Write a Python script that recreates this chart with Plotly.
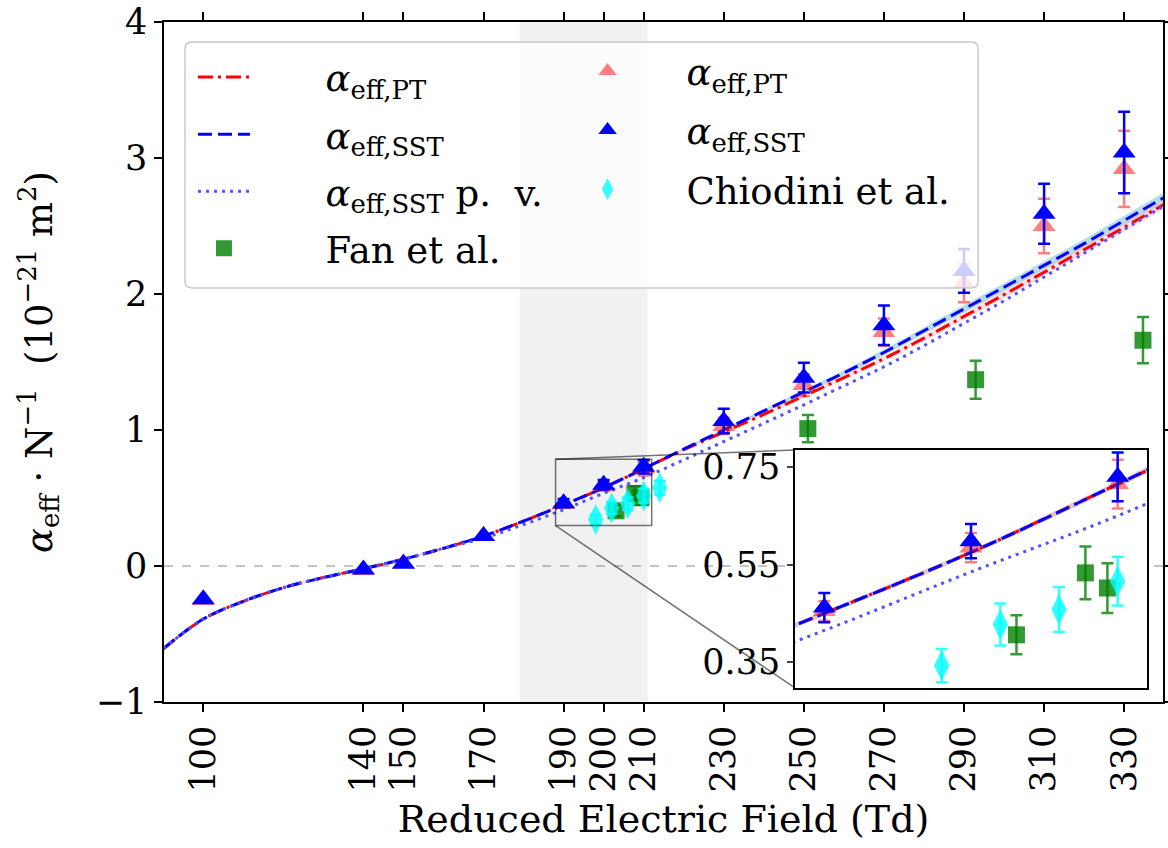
import plotly.graph_objects as go

# ---------------- data ----------------
curve_x = [90, 100, 110, 120, 130, 140, 150, 160, 170, 180, 190, 200, 210,
           220, 230, 240, 250, 260, 270, 280, 290, 300, 310, 320, 330, 340]
alpha_pt = [-0.61, -0.39, -0.26, -0.16, -0.085, -0.02, 0.05, 0.13, 0.22, 0.33, 0.45, 0.575, 0.715,
            0.855, 0.985, 1.115, 1.25, 1.385, 1.525, 1.675, 1.835, 1.995, 2.16, 2.325, 2.49, 2.66]
alpha_sst = [-0.61, -0.39, -0.26, -0.16, -0.085, -0.02, 0.05, 0.13, 0.22, 0.33, 0.45, 0.575, 0.715,
             0.86, 1.0, 1.14, 1.28, 1.42, 1.57, 1.73, 1.89, 2.05, 2.21, 2.37, 2.54, 2.71]
alpha_sst_pv = [-0.61, -0.39, -0.26, -0.16, -0.085, -0.02, 0.05, 0.13, 0.205, 0.305, 0.415, 0.535, 0.65,
                0.78, 0.915, 1.05, 1.185, 1.325, 1.465, 1.62, 1.785, 1.95, 2.125, 2.3, 2.475, 2.65]
band_half = [0.006, 0.005, 0.005, 0.005, 0.005, 0.005, 0.005, 0.005, 0.005, 0.005, 0.005, 0.005, 0.006,
             0.008, 0.01, 0.012, 0.015, 0.018, 0.021, 0.024, 0.027, 0.029, 0.031, 0.033, 0.035, 0.037]

e_field = [100, 140, 150, 170, 190, 200, 210, 230, 250, 270, 290, 310, 330]
pt_vals = [-0.25, -0.03, 0.02, 0.22, 0.455, 0.585, 0.715, 1.03, 1.33, 1.72, 2.08, 2.50, 2.92]
pt_err = [0.0, 0.0, 0.0, 0.0, 0.02, 0.03, 0.05, 0.06, 0.08, 0.10, 0.14, 0.20, 0.28]
sst_vals = [-0.245, -0.025, 0.017, 0.22, 0.462, 0.598, 0.73, 1.066, 1.385, 1.77, 2.17, 2.59, 3.04]
sst_err = [0.0, 0.0, 0.0, 0.0, 0.03, 0.035, 0.05, 0.09, 0.11, 0.145, 0.16, 0.22, 0.30]

fan_x = [203.1, 207.8, 209.3, 251.0, 292.9, 334.7]
fan_vals = [0.406, 0.533, 0.502, 1.01, 1.37, 1.66]
fan_err = [0.04, 0.054, 0.051, 0.10, 0.14, 0.17]

chiodini_x = [198, 202, 206, 210, 214]
chiodini_vals = [0.343, 0.427, 0.458, 0.516, 0.576]
chiodini_err = [0.034, 0.043, 0.046, 0.05, 0.05]

x_ticks = [100, 140, 150, 170, 190, 200, 210, 230, 250, 270, 290, 310, 330]
y_ticks = [-1, 0, 1, 2, 3, 4]
inset_y_ticks = [0.35, 0.55, 0.75]

x_range = [90.2, 339.7]
y_range = [-1, 4]
inset_x_range = [188, 212]
inset_y_range = [0.297, 0.785]
shade_span = [179, 211]

# ---------------- styling ----------------
FONT = "DejaVu Serif"
RED = "#ff0000"
BLUE = "#0000ff"
PV = "#5050ff"
PAD1 = "\u00a0" * 6
PAD2 = "\u00a0" * 5

fig = go.Figure()


def add_all(xa, ya, legend_on):
    # uncertainty bands
    fig.add_trace(go.Scatter(x=curve_x, y=[v + b for v, b in zip(alpha_sst, band_half)],
                             mode="lines", line=dict(width=0, shape="spline"), showlegend=False,
                             hoverinfo="skip", xaxis=xa, yaxis=ya))
    fig.add_trace(go.Scatter(x=curve_x, y=[v - b for v, b in zip(alpha_sst, band_half)],
                             mode="lines", line=dict(width=0, shape="spline"), fill="tonexty",
                             fillcolor="rgba(173,216,230,0.9)", showlegend=False,
                             hoverinfo="skip", xaxis=xa, yaxis=ya))
    fig.add_trace(go.Scatter(x=curve_x, y=[v + b for v, b in zip(alpha_pt, band_half)],
                             mode="lines", line=dict(width=0, shape="spline"), showlegend=False,
                             hoverinfo="skip", xaxis=xa, yaxis=ya))
    fig.add_trace(go.Scatter(x=curve_x, y=[v - b for v, b in zip(alpha_pt, band_half)],
                             mode="lines", line=dict(width=0, shape="spline"), fill="tonexty",
                             fillcolor="rgba(255,182,193,0.4)", showlegend=False,
                             hoverinfo="skip", xaxis=xa, yaxis=ya))
    # model curves
    fig.add_trace(go.Scatter(x=curve_x, y=alpha_pt, mode="lines",
                             name=PAD1 + "<i>α</i><sub>eff,PT</sub>",
                             line=dict(color=RED, width=3, dash="15px,5px,3px,5px", shape="spline"),
                             showlegend=legend_on, legend="legend", legendgroup="l1", legendrank=1,
                             xaxis=xa, yaxis=ya))
    fig.add_trace(go.Scatter(x=curve_x, y=alpha_sst, mode="lines",
                             name=PAD1 + "<i>α</i><sub>eff,SST</sub>",
                             line=dict(color=BLUE, width=3, dash="14px,6px", shape="spline"),
                             showlegend=legend_on, legend="legend", legendgroup="l2", legendrank=2,
                             xaxis=xa, yaxis=ya))
    fig.add_trace(go.Scatter(x=curve_x, y=alpha_sst_pv, mode="lines",
                             name=PAD1 + "<i>α</i><sub>eff,SST</sub> p.  v.",
                             line=dict(color=PV, width=3, dash="3px,5px", shape="spline"),
                             showlegend=legend_on, legend="legend", legendgroup="l3", legendrank=3,
                             xaxis=xa, yaxis=ya))
    # experimental data
    fig.add_trace(go.Scatter(x=fan_x, y=fan_vals, mode="markers", name=PAD1 + "Fan et al.",
                             marker=dict(symbol="square", size=17, color="rgba(0,128,0,0.8)"),
                             error_y=dict(type="data", array=fan_err, thickness=2.5, width=6,
                                          color="rgba(0,128,0,0.8)"),
                             showlegend=legend_on, legend="legend", legendgroup="l4", legendrank=4,
                             xaxis=xa, yaxis=ya))
    fig.add_trace(go.Scatter(x=chiodini_x, y=chiodini_vals, mode="markers",
                             name=PAD2 + "Chiodini et al.",
                             marker=dict(symbol="diamond-tall", size=22, color="rgba(0,255,255,0.8)"),
                             error_y=dict(type="data", array=chiodini_err, thickness=2.5, width=6,
                                          color="rgba(0,255,255,0.8)"),
                             showlegend=legend_on, legend="legend2", legendgroup="m3", legendrank=3,
                             xaxis=xa, yaxis=ya))
    fig.add_trace(go.Scatter(x=e_field, y=pt_vals, mode="markers",
                             name=PAD2 + "<i>α</i><sub>eff,PT</sub>",
                             marker=dict(symbol="triangle-up", size=20, color="rgba(255,0,0,0.5)"),
                             error_y=dict(type="data", array=pt_err, thickness=2.5, width=6,
                                          color="rgba(255,0,0,0.5)"),
                             showlegend=legend_on, legend="legend2", legendgroup="m1", legendrank=1,
                             xaxis=xa, yaxis=ya))
    fig.add_trace(go.Scatter(x=e_field, y=sst_vals, mode="markers",
                             name=PAD2 + "<i>α</i><sub>eff,SST</sub>",
                             marker=dict(symbol="triangle-up", size=20, color=BLUE),
                             error_y=dict(type="data", array=sst_err, thickness=2.5, width=6,
                                          color=BLUE),
                             showlegend=legend_on, legend="legend2", legendgroup="m2", legendrank=2,
                             xaxis=xa, yaxis=ya))


add_all("x", "y", True)
add_all("x2", "y2", False)

axis_common = dict(showline=True, linecolor="black", linewidth=1.5, mirror="ticks",
                   ticks="outside", ticklen=8, tickwidth=1.5, tickcolor="black",
                   showgrid=False, zeroline=False, automargin=False, ticklabeloverflow="allow",
                   tickfont=dict(family=FONT, size=35, color="black"))

fig.update_layout(
    template="none",
    width=1168, height=848,
    margin=dict(l=164, r=5, t=22, b=146),
    paper_bgcolor="white", plot_bgcolor="white",
    font=dict(family=FONT, color="black"),
    xaxis=dict(range=x_range, tickvals=x_ticks, ticktext=[str(v) for v in x_ticks],
               tickangle=-90,
               title=dict(text="Reduced Electric Field (Td)", standoff=14,
                          font=dict(family=FONT, size=38)),
               **axis_common),
    yaxis=dict(range=y_range, tickvals=y_ticks,
               title=dict(text="<i>α</i><sub>eff</sub> · N<sup>−1</sup>  (10<sup>−21</sup> m<sup>2</sup>)",
                          standoff=32, font=dict(family=FONT, size=37)),
               **axis_common),
    xaxis2=dict(domain=[0.6316, 0.984], anchor="y2", range=inset_x_range,
                showline=True, linecolor="black", linewidth=1.5, mirror=True, automargin=False,
                ticks="", showticklabels=False, showgrid=False, zeroline=False),
    yaxis2=dict(domain=[0.0206, 0.3706], anchor="x2", range=inset_y_range,
                tickvals=inset_y_ticks, ticktext=["0.35", "0.55", "0.75"],
                showline=True, linecolor="black", linewidth=1.5, mirror=True, automargin=False,
                ticks="outside", ticklen=6, tickwidth=1.5, showgrid=False, zeroline=False,
                ticklabeloverflow="allow",
                tickfont=dict(family=FONT, size=35, color="black")),
    legend=dict(x=0.029, y=0.964, xanchor="left", yanchor="top",
                bgcolor="rgba(0,0,0,0)", borderwidth=0, traceorder="grouped",
                tracegroupgap=6, itemwidth=52,
                font=dict(family=FONT, size=37, color="black")),
    legend2=dict(x=0.424, y=0.973, xanchor="left", yanchor="top",
                 bgcolor="rgba(0,0,0,0)", borderwidth=0, traceorder="grouped",
                 tracegroupgap=8, itemwidth=30,
                 font=dict(family=FONT, size=37, color="black")),
    showlegend=True,
)

# shaded field window
fig.add_shape(type="rect", xref="x", yref="paper", x0=shade_span[0], x1=shade_span[1],
              y0=0, y1=1, fillcolor="rgba(0,0,0,0.055)", line_width=0, layer="below")
# zero reference line
fig.add_shape(type="line", xref="paper", yref="y", x0=0, x1=1, y0=0, y1=0,
              line=dict(color="#888888", width=1, dash="dash"), layer="below")

# zoom indicator rectangle and connectors
fig.add_shape(type="rect", xref="x", yref="y", x0=inset_x_range[0], x1=inset_x_range[1],
              y0=inset_y_range[0], y1=inset_y_range[1],
              line=dict(color="rgba(0,0,0,0.55)", width=1.5), layer="above")


def to_paper_x(v):
    return (v - x_range[0]) / (x_range[1] - x_range[0])


def to_paper_y(v):
    return (v - y_range[0]) / (y_range[1] - y_range[0])


ins_x0, ins_x1 = 0.6316, 0.984
ins_y0, ins_y1 = 0.0206, 0.3706
fig.add_shape(type="line", xref="paper", yref="paper",
              x0=to_paper_x(inset_x_range[0]), y0=to_paper_y(inset_y_range[1]),
              x1=ins_x0, y1=ins_y1, line=dict(color="rgba(0,0,0,0.55)", width=1.5), layer="above")
fig.add_shape(type="line", xref="paper", yref="paper",
              x0=to_paper_x(inset_x_range[0]), y0=to_paper_y(inset_y_range[0]),
              x1=ins_x0, y1=ins_y0, line=dict(color="rgba(0,0,0,0.55)", width=1.5), layer="above")

# legend frame (rounded, translucent)
lx0, lx1, ly0, ly1 = 0.021, 0.815, 0.609, 0.9706
rx, ry = 0.007, 0.010
frame_path = (f"M {lx0+rx},{ly0} L {lx1-rx},{ly0} Q {lx1},{ly0} {lx1},{ly0+ry} "
              f"L {lx1},{ly1-ry} Q {lx1},{ly1} {lx1-rx},{ly1} L {lx0+rx},{ly1} "
              f"Q {lx0},{ly1} {lx0},{ly1-ry} L {lx0},{ly0+ry} Q {lx0},{ly0} {lx0+rx},{ly0} Z")
fig.add_shape(type="path", xref="paper", yref="paper", path=frame_path,
              fillcolor="rgba(255,255,255,0.8)", line=dict(color="rgba(200,200,200,1)", width=1.5),
              layer="above")

# remove the browser's default 8px body margin so the figure fills the window exactly
fig.write_html("out.html", config={"displayModeBar": False},
               post_script="document.body.style.margin='0';")
